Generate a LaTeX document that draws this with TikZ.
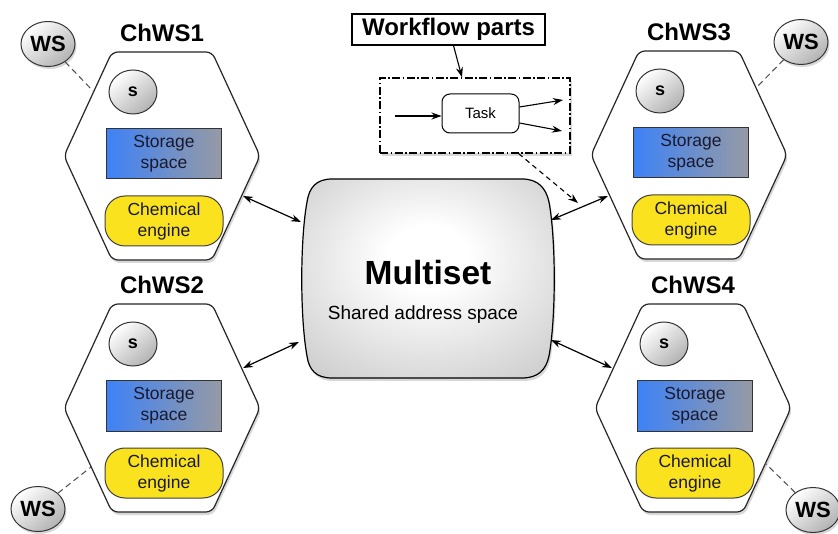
\documentclass[tikz,border=0pt]{standalone}
\usepackage{fontspec}
\setmainfont{Liberation Sans}
\usetikzlibrary{shapes.geometric,arrows.meta,calc,shadows}
\definecolor{storL}{RGB}{62,130,246}
\definecolor{storR}{RGB}{150,154,164}
\definecolor{engY}{RGB}{250,226,30}
\definecolor{txtD}{RGB}{25,25,45}
\pgfdeclareradialshading{msshade}{\pgfpoint{0bp}{6bp}}{color(0bp)=(white); color(8bp)=(white); color(50bp)=(black!30); color(72bp)=(black!42)}
\tikzset{
 hexa/.style={draw=black!85, line width=1.2pt, fill=white, rounded corners=6pt,
   drop shadow={shadow xshift=1.5pt, shadow yshift=-3pt, opacity=.3}},
 bub/.style={ellipse, draw=black!80, line width=1pt, inner sep=0pt,
   top color=white, bottom color=black!30, shading angle=40, text=black},
 sbub/.style={bub, minimum width=48pt, minimum height=44pt, font=\fontsize{18}{20}\selectfont\bfseries},
 wsbub/.style={bub, minimum width=54pt, minimum height=45pt, font=\fontsize{22}{24}\selectfont\bfseries,
   drop shadow={shadow xshift=1.5pt, shadow yshift=-2.5pt, opacity=.3}},
 storage/.style={rectangle, draw=black!80, line width=1pt, left color=storL, right color=storR,
   minimum width=115pt, minimum height=50pt, align=center, text=txtD, inner sep=1pt,
   font=\fontsize{17.5}{21}\selectfont},
 engine/.style={rectangle, rounded corners=20pt, draw=black!75, line width=1pt, fill=engY,
   minimum width=118pt, minimum height=50pt, align=center, text=txtD, inner sep=1pt,
   font=\fontsize{17.5}{21}\selectfont},
 hlabel/.style={font=\fontsize{24}{26}\selectfont\bfseries},
 link/.style={{Stealth[length=10pt,width=7pt]}-{Stealth[length=10pt,width=7pt]}, line width=1.2pt},
 flow/.style={-{Stealth[length=10pt,width=7pt]}, line width=1.1pt},
 wslink/.style={dash pattern=on 6pt off 4pt, line width=1pt, draw=black!70},
 msshape/.style={draw=black, line width=1.2pt, shading=msshade,
   drop shadow={shadow xshift=1.5pt, shadow yshift=-3pt, opacity=.3}},
 wfbox/.style={draw=black, line width=1.3pt, fill=white, dash pattern=on 8pt off 2.5pt on 1.5pt off 2.5pt,
   minimum width=190pt, minimum height=75pt,
   drop shadow={shadow xshift=1.5pt, shadow yshift=-3pt, opacity=.3}},
 taskbox/.style={draw=black, line width=1pt, fill=white, rounded corners=8pt,
   minimum width=77pt, minimum height=39pt, font=\fontsize{15}{17}\selectfont},
 wpbox/.style={draw=black, line width=1.2pt, fill=white, minimum width=193pt, minimum height=31pt,
   inner sep=1pt, font=\fontsize{24}{26}\selectfont\bfseries}
}
\newcommand\chwsunit[4]{%
 \coordinate (#1) at (#2,#3);
 \path[hexa] ($(#1)+(-50,-104)$) -- ($(#1)+(50,-104)$) -- ($(#1)+(98,0)$) -- ($(#1)+(50,104)$)
   -- ($(#1)+(-50,104)$) -- ($(#1)+(-98,0)$) -- cycle;
 \node[sbub] (#1s) at ($(#1)+(-29,-64)$) {s};
 \node[storage] (#1st) at ($(#1)+(2,-2)$) {\raisebox{-3pt}{Storage}\\\raisebox{-3pt}{space}};
 \node[engine] (#1en) at ($(#1)+(2,65)$) {Chemical\\engine};
 \node[hlabel] (#1lab) at ($(#1)+(0,-123)$) {#4};
}
\begin{document}
\begin{tikzpicture}[x=1pt,y=-1pt]
\useasboundingbox[fill=white] (0,0) rectangle (838,534);
% Multiset
\path[msshape] (332,179) -- (522,179) .. controls (538,179) and (546,188) .. (549,202)
  .. controls (556,240) and (556,318) .. (549,356)
  .. controls (546,370) and (538,378) .. (522,378) -- (332,378)
  .. controls (316,378) and (309,370) .. (307,356)
  .. controls (300,318) and (300,240) .. (307,202)
  .. controls (309,188) and (316,179) .. (332,179) -- cycle;
\node[minimum width=253pt, minimum height=199pt] (ms) at (428.5,278.5) {};
\node[font=\fontsize{33.5}{36}\selectfont\bfseries] (mst) at (428,273) {Multiset};
\node[font=\fontsize{19}{21}\selectfont] (msa) at (423,315) {Shared address space};
\coordinate (msA) at (301,222);
\coordinate (msB) at (299,342);
\coordinate (msC) at (551,220);
\coordinate (msD) at (551,340);
% ChWS units
\chwsunit{h1}{162}{156}{ChWS1}
\chwsunit{h2}{162}{408}{ChWS2}
\chwsunit{h3}{689}{155}{ChWS3}
\chwsunit{h4}{693}{408}{ChWS4}
\coordinate (h1e) at ($(h1)+(81,40)$);
\coordinate (h2e) at ($(h2)+(81,-40)$);
\coordinate (h3e) at ($(h3)+(-81,41)$);
\coordinate (h4e) at ($(h4)+(-81,-40)$);
\draw[link] (h1e) -- (msA);
\draw[link] (h2e) -- (msB);
\draw[link] (h3e) -- (msC);
\draw[link] (msD) -- (h4e);
% WS
\node[wsbub] (ws1) at (48,44) {WS};
\node[wsbub] (ws2) at (38,509) {WS};
\node[wsbub] (ws3) at (801,42) {WS};
\node[wsbub] (ws4) at (813,510) {WS};
\coordinate (h1w) at ($(h1)+(-68,-64)$);
\coordinate (h2w) at ($(h2)+(-71,59)$);
\coordinate (h3w) at ($(h3)+(67,-67)$);
\coordinate (h4w) at ($(h4)+(72,55)$);
\draw[wslink] (ws1) -- (h1w);
\draw[wslink] (ws2) -- (h2w);
\draw[wslink] (ws3) -- (h3w);
\draw[wslink] (ws4) -- (h4w);
% Workflow parts
\node[wpbox] (wp) at (448.5,29.5) {Workflow parts};
\node[wfbox] (wf) at (475,115.5) {};
\node[taskbox] (task) at (480.5,113.5) {Task};
\coordinate (tin) at (395,116);
\coordinate (to1) at (563,100);
\coordinate (to2) at (562,131);
\coordinate (dend) at (578,203);
\draw[flow] (tin) -- (tin -| task.west);
\draw[flow] ($(task.east)+(0,-6.5)$) -- (to1);
\draw[flow] ($(task.east)+(0,9.5)$) -- (to2);
\draw[flow] ($(wp.south)+(5,0)$) -- ($(wf.north)+(-13,0)$);
\draw[flow, dash pattern=on 5pt off 4pt] ($(wf.south east)+(-52,0)$) -- (dend);
\end{tikzpicture}
\end{document}
